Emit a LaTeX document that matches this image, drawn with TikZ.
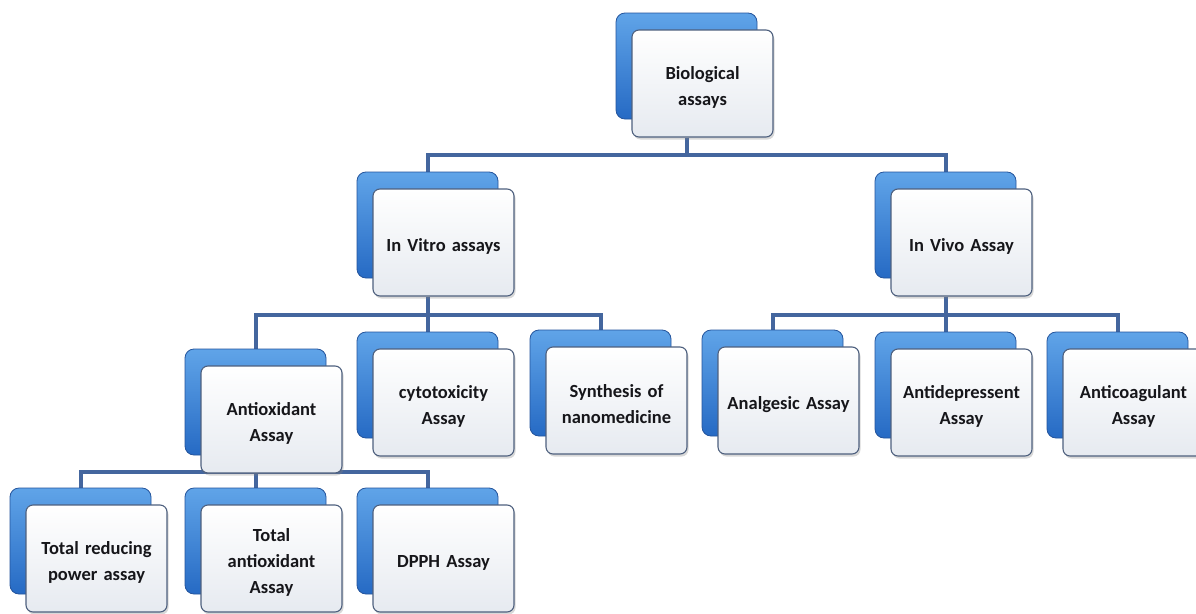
\documentclass[tikz,border=0pt]{standalone}
\usepackage{fontspec}
\setmainfont{Carlito}
\usetikzlibrary{shadows,backgrounds}

\definecolor{busblue}{RGB}{68,102,158}
\definecolor{backtop}{RGB}{96,164,232}
\definecolor{backbot}{RGB}{38,106,196}
\definecolor{backedge}{RGB}{36,84,156}
\definecolor{frontedge}{RGB}{78,96,126}
\definecolor{frontbot}{RGB}{230,234,240}
\definecolor{inktext}{RGB}{22,22,26}

\tikzset{
  backbox/.style={rectangle, rounded corners=9pt, minimum width=141pt,
    minimum height=106pt, inner sep=0pt, draw=backedge, line width=0.8pt,
    top color=backtop, bottom color=backbot},
  frontbox/.style={rectangle, rounded corners=7pt, minimum width=141pt,
    minimum height=107pt, inner sep=0pt,
    draw=frontedge, line width=1.1pt, top color=white, bottom color=frontbot,
    drop shadow={opacity=0.3, shadow xshift=1.5pt, shadow yshift=-2.5pt}},
  cardtext/.style={text width=135pt, align=center, inner sep=0pt,
    font=\bfseries\fontsize{18.5}{26}\selectfont, text=inktext},
  conn/.style={draw=busblue, line width=4pt}
}

% a blue back card with a light front card laid over it, and its label
\newcommand\cardpair[4]{%
  \node[backbox] (#1-b) at ({#2+70.5},{#3+53}) {};
  \node[frontbox] (#1) at ({#2+16+70.5},{#3+17+53.5}) {};
  \node[cardtext] (#1-t) at ([yshift=-4pt]#1.center) {#4};}

\begin{document}
\begin{tikzpicture}[x=1pt,y=-1pt]
\useasboundingbox (0,0) rectangle (1196,613);

% level 0
\cardpair{root}{616}{13}{Biological\\assays}
% level 1
\cardpair{vitro}{357}{172}{In Vitro assays}
\cardpair{vivo}{875}{172}{In Vivo Assay}
% level 2
\cardpair{antiox}{185}{349}{Antioxidant\\Assay}
\cardpair{cyto}{357}{332}{cytotoxicity\\Assay}
\cardpair{synth}{530}{330}{Synthesis of\\nanomedicine}
\cardpair{analg}{702}{330}{Analgesic Assay}
\cardpair{antidep}{875}{332}{Antidepressent\\Assay}
\cardpair{anticoag}{1047}{332}{Anticoagulant\\Assay}
% level 3
\cardpair{trp}{10}{488}{Total reducing\\power assay}
\cardpair{tao}{185}{488}{Total\\antioxidant\\Assay}
\cardpair{dpph}{357}{488}{DPPH Assay}

% bus heights
\coordinate (bus1) at (0,155);
\coordinate (bus2) at (0,315);
\coordinate (bus3) at (0,472);

\begin{pgfonlayer}{background}
  \fill[white] (0,0) rectangle (1196,613);
  % root to level 1
  \draw[conn] (root-b.center |- root.south) |- (vitro-b.north |- bus1) -- (vitro-b.north);
  \draw[conn] (root-b.center |- root.south) |- (vivo-b.north |- bus1) -- (vivo-b.north);
  % In Vitro to its assays
  \draw[conn] (vitro-b.center |- vitro.south) |- (antiox-b.north |- bus2) -- (antiox-b.north);
  \draw[conn] (vitro-b.center |- vitro.south) -- (cyto-b.north);
  \draw[conn] (vitro-b.center |- vitro.south) |- (synth-b.north |- bus2) -- (synth-b.north);
  % In Vivo to its assays
  \draw[conn] (vivo-b.center |- vivo.south) |- (analg-b.north |- bus2) -- (analg-b.north);
  \draw[conn] (vivo-b.center |- vivo.south) -- (antidep-b.north);
  \draw[conn] (vivo-b.center |- vivo.south) |- (anticoag-b.north |- bus2) -- (anticoag-b.north);
  % Antioxidant to its assays
  \draw[conn] (antiox-b.center |- bus3) |- (trp-b.north |- bus3) -- (trp-b.north);
  \draw[conn] (antiox-b.center |- bus3) -- (tao-b.north);
  \draw[conn] (antiox-b.center |- bus3) |- (dpph-b.north |- bus3) -- (dpph-b.north);
\end{pgfonlayer}
\end{tikzpicture}
\end{document}
